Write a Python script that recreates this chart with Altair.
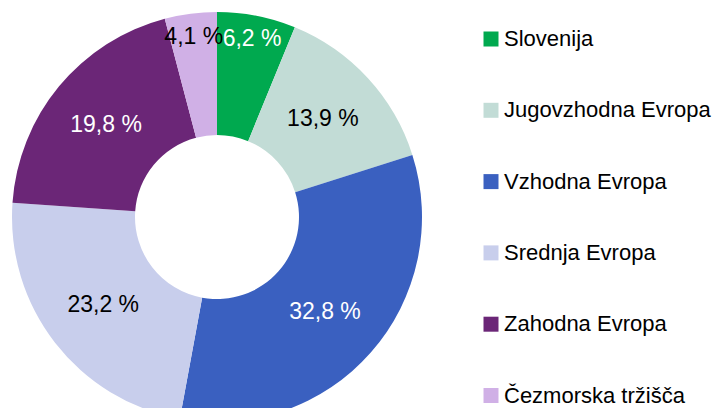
import altair as alt
import pandas as pd

regions = ["Slovenija", "Jugovzhodna Evropa", "Vzhodna Evropa", "Srednja Evropa", "Zahodna Evropa", "Čezmorska tržišča"]
shares = [6.2, 13.9, 32.8, 23.2, 19.8, 4.1]
labels = ["6,2 %", "13,9 %", "32,8 %", "23,2 %", "19,8 %", "4,1 %"]
colors = ["#00A94F", "#C2DCD6", "#3A60C0", "#C8CEEC", "#6B2677", "#D0B0E6"]
white_label_regions = ["Slovenija", "Vzhodna Evropa", "Zahodna Evropa"]

df = pd.DataFrame({"region": regions, "share": shares, "label": labels, "idx": list(range(len(regions)))})

cx, cy = 209, 209

arcs = alt.Chart(df).mark_arc(innerRadius=82, outerRadius=205, x=cx, y=cy, strokeWidth=0).encode(
    theta=alt.Theta("share:Q", stack=True),
    order=alt.Order("idx:Q", sort="ascending"),
    color=alt.Color(
        "region:N",
        scale=alt.Scale(domain=regions, range=colors),
        sort=regions,
        legend=alt.Legend(
            title=None,
            orient="none",
            legendX=472,
            legendY=20,
            symbolType="square",
            symbolSize=225,
            symbolStrokeWidth=0,
            labelFont="Liberation Sans",
            labelFontSize=22,
            labelColor="black",
            labelOffset=2,
            rowPadding=49.3,
            labelLimit=400,
        ),
    ),
)

text_color = alt.condition(
    alt.FieldOneOfPredicate(field="region", oneOf=white_label_regions),
    alt.value("white"),
    alt.value("black"),
)

texts = (
    alt.Chart(df)
    .transform_joinaggregate(total="sum(share)")
    .transform_window(cum="sum(share)", sort=[alt.SortField("idx", order="ascending")])
    .transform_calculate(
        mid="(datum.cum - datum.share / 2) / datum.total * 2 * PI",
        r="datum.share < 7 ? 181 : 144",
    )
    .mark_text(x=cx, y=cy, font="Liberation Sans", fontSize=23, baseline="middle")
    .encode(
        theta=alt.Theta("mid:Q", scale=None),
        radius=alt.Radius("r:Q", scale=None),
        text="label:N",
        color=text_color,
    )
)

chart = (
    alt.layer(arcs, texts)
    .properties(width=704, height=400, padding=0, autosize=alt.AutoSizeParams(type="none"))
    .configure_view(stroke=None)
)

chart.save("out.html", embed_options={"renderer": "svg", "actions": False})
